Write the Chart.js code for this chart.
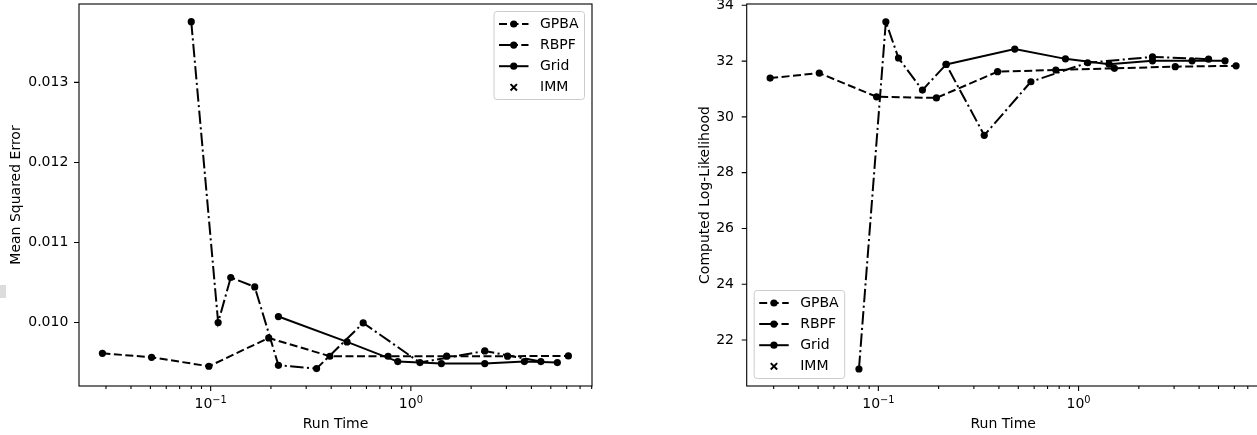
<!DOCTYPE html>
<html><head><meta charset="utf-8">
<script src="https://cdn.jsdelivr.net/npm/chart.js@4.4.1/dist/chart.umd.min.js"></script>
<style>
html,body{margin:0;padding:0;background:#fff;overflow:hidden;width:1257px;height:435px;}
#wrapL{position:absolute;left:0;top:0;width:628px;height:435px;}
#wrapR{position:absolute;left:628px;top:0;width:640px;height:435px;}
#smudge{position:absolute;left:0;top:285px;width:6px;height:13px;background:#dcdcdc;}
</style></head><body>
<div id="wrapL"><canvas id="c1" width="628" height="435"></canvas></div>
<div id="wrapR"><canvas id="c2" width="640" height="435"></canvas></div>
<div id="smudge"></div>
<script>
// ---- data ----
const methodNames = ['GPBA', 'RBPF', 'Grid', 'IMM'];

const gpbaTime = [0.0288, 0.0507, 0.098, 0.195, 0.394, 0.77, 1.51, 3.04, 6.12];
const gpbaMse  = [0.009616, 0.009566, 0.009454, 0.009808, 0.009579, 0.009579, 0.009580, 0.009580, 0.009583];
const gpbaLL   = [31.39, 31.57, 30.72, 30.68, 31.62, 31.68, 31.74, 31.80, 31.83];

const rbpfTime = [0.080, 0.109, 0.126, 0.166, 0.218, 0.338, 0.578, 1.11, 2.34, 4.46];
const rbpfMse  = [0.013758, 0.010000, 0.010563, 0.010445, 0.009466, 0.009425, 0.009995, 0.009500, 0.009645, 0.009512];
const rbpfLL   = [20.96, 33.41, 32.11, 30.96, 31.88, 29.34, 31.26, 31.94, 32.15, 32.07];

const gridTime = [0.218, 0.48, 0.86, 1.42, 2.34, 3.69, 5.39];
const gridMse  = [0.010075, 0.009758, 0.009512, 0.009487, 0.009487, 0.009512, 0.009500];
const gridLL   = [31.88, 32.43, 32.08, 31.89, 32.01, 32.01, 32.01];

const immTime = [];
const immMse  = [];
const immLL   = [];

// x tick labels: [value, base, exponent]
const xTickLabels = [[0.1, '10', '\u22121'], [1, '10', '0']];
const mseTickStep = 0.001;
const llTickStep = 2;

// ---- setup ----
Chart.defaults.font.family = 'DejaVu Sans';
Chart.defaults.font.size = 14;
Chart.defaults.color = '#000';

const xMin = 0.022, xMax = 8.03;

function pts(xs, ys) { return xs.map((v, i) => ({x: v, y: ys[i]})); }

function makeDatasets(gy, ry, dy, iy) {
  const common = {borderColor: '#000', backgroundColor: '#000', borderWidth: 2,
    pointRadius: 3.6, pointHoverRadius: 3.6, pointBorderWidth: 0, pointBackgroundColor: '#000',
    fill: false, tension: 0};
  return [
    Object.assign({}, common, {label: methodNames[0], data: pts(gpbaTime, gy), borderDash: [8, 3.5]}),
    Object.assign({}, common, {label: methodNames[1], data: pts(rbpfTime, ry), borderDash: [13.4, 3.4, 2.1, 3.4]}),
    Object.assign({}, common, {label: methodNames[2], data: pts(gridTime, dy), borderDash: []}),
    Object.assign({}, common, {label: methodNames[3], data: pts(immTime, iy), showLine: false,
      pointStyle: 'crossRot', pointRadius: 4, pointBorderWidth: 2, pointBorderColor: '#000'})
  ];
}

const mplPlugin = {
  id: 'mpl',
  afterDatasetsDraw(chart, args, opts) {
    const {ctx, chartArea: a} = chart;
    const x = chart.scales.x, y = chart.scales.y;
    ctx.save();
    ctx.strokeStyle = '#000';
    ctx.lineWidth = 1.1;
    ctx.setLineDash([]);
    ctx.beginPath();
    x.ticks.forEach(t => {
      const v = t.value;
      if (v < x.min || v > x.max) return;
      const e = Math.floor(Math.log10(v) + 1e-9);
      const m = v / Math.pow(10, e);
      if (Math.abs(m - Math.round(m)) > 1e-6) return;
      const px = x.getPixelForValue(v);
      const len = Math.round(m) === 1 ? 5 : 3;
      ctx.moveTo(px, a.bottom); ctx.lineTo(px, a.bottom + len);
    });
    y.ticks.forEach(t => {
      const py = y.getPixelForValue(t.value);
      ctx.moveTo(a.left - 5, py); ctx.lineTo(a.left, py);
    });
    ctx.stroke();
    ctx.strokeRect(a.left, a.top, a.right - a.left, a.bottom - a.top);

    // x tick labels with superscript exponents, placed by the x scale
    ctx.fillStyle = '#000';
    ctx.textAlign = 'left';
    ctx.textBaseline = 'alphabetic';
    const bigFont = '14px "DejaVu Sans"', supFont = '9.8px "DejaVu Sans"';
    xTickLabels.forEach(([val, base, sup]) => {
      if (val < x.min || val > x.max) return;
      const px = x.getPixelForValue(val);
      ctx.font = bigFont; const wb = ctx.measureText(base).width;
      ctx.font = supFont; const ws = ctx.measureText(sup).width;
      const x0 = px - (wb + ws) / 2;
      const base_y = a.bottom + 22.3;
      ctx.font = bigFont; ctx.fillText(base, x0, base_y);
      ctx.font = supFont; ctx.fillText(sup, x0 + wb, base_y - 5.6);
    });

    // legend
    const ds = chart.data.datasets;
    const W = 90.5, H = 88, pad = 7.5;
    let fx, fy;
    if (opts.loc === 'upper right') { fx = a.right - pad - W; fy = a.top + pad; }
    else { fx = a.left + pad; fy = a.bottom - pad - H; }
    ctx.beginPath();
    ctx.roundRect(fx, fy, W, H, 3);
    ctx.fillStyle = 'rgba(255,255,255,0.8)';
    ctx.fill();
    ctx.strokeStyle = '#cccccc';
    ctx.lineWidth = 1;
    ctx.stroke();
    ds.forEach((d, i) => {
      const cy = fy + 12.5 + i * 21.1;
      const x0 = fx + 5, x1 = fx + 34.5, cx = (x0 + x1) / 2;
      ctx.strokeStyle = '#000';
      if (d.showLine !== false) {
        ctx.setLineDash(d.borderDash || []);
        ctx.lineWidth = d.borderWidth;
        ctx.beginPath(); ctx.moveTo(x0, cy); ctx.lineTo(x1, cy); ctx.stroke();
        ctx.setLineDash([]);
      }
      if (d.pointStyle === 'crossRot') {
        const s = 3.2;
        ctx.lineWidth = 2;
        ctx.beginPath();
        ctx.moveTo(cx - s, cy - s); ctx.lineTo(cx + s, cy + s);
        ctx.moveTo(cx - s, cy + s); ctx.lineTo(cx + s, cy - s);
        ctx.stroke();
      } else {
        ctx.fillStyle = '#000';
        ctx.beginPath(); ctx.arc(cx, cy, d.pointRadius, 0, Math.PI * 2); ctx.fill();
      }
      ctx.fillStyle = '#000';
      ctx.font = '14px "DejaVu Sans"';
      ctx.textBaseline = 'middle';
      ctx.textAlign = 'left';
      ctx.fillText(d.label, fx + 46, cy);
    });
    ctx.restore();
  }
};

function makeChart(id, cfg) {
  return new Chart(document.getElementById(id), {
    type: 'line',
    data: {datasets: cfg.datasets},
    options: {
      responsive: false, animation: false, devicePixelRatio: 1,
      events: [],
      layout: {padding: {left: 0, right: cfg.padRight, top: 4, bottom: 0}},
      plugins: {legend: {display: false}, tooltip: {enabled: false}, mpl: {loc: cfg.legendLoc}},
      scales: {
        x: {
          type: 'logarithmic', min: xMin, max: xMax,
          grid: {display: false, drawTicks: false}, border: {display: false},
          ticks: {autoSkip: false, maxRotation: 0, minRotation: 0, padding: 8, color: '#000',
                  font: {family: 'DejaVu Sans', size: 14}, callback: () => ''},
          title: {display: true, text: 'Run Time', color: '#000', font: {family: 'DejaVu Sans', size: 14},
                  padding: {top: 0, bottom: 2.6}},
          afterFit: s => { s.height = 49; s.paddingLeft = 0; s.paddingRight = 0; }
        },
        y: {
          type: 'linear', min: cfg.yMin, max: cfg.yMax,
          grid: {display: false, drawTicks: false}, border: {display: false},
          ticks: {stepSize: cfg.step, includeBounds: false, padding: cfg.tickPad, color: '#000',
                  font: {family: 'DejaVu Sans', size: 14}, callback: cfg.yFmt},
          title: {display: true, text: cfg.yTitle, color: '#000', font: {family: 'DejaVu Sans', size: 14},
                  padding: {top: cfg.titlePad, bottom: 0}},
          afterFit: s => { s.width = cfg.yWidth; s.paddingTop = 0; s.paddingBottom = 0; }
        }
      }
    },
    plugins: [mplPlugin]
  });
}

makeChart('c1', {
  datasets: makeDatasets(gpbaMse, rbpfMse, gridMse, immMse),
  padRight: 36, yMin: 0.0092075, yMax: 0.013979, step: mseTickStep, tickPad: 10.7,
  yFmt: v => v.toFixed(3), yTitle: 'Mean Squared Error', titlePad: 7.6, yWidth: 79,
  legendLoc: 'upper right'
});

makeChart('c2', {
  datasets: makeDatasets(gpbaLL, rbpfLL, gridLL, immLL),
  padRight: 8.3, yMin: 20.35, yMax: 34.047, step: llTickStep, tickPad: 12.7,
  yFmt: v => String(Math.round(v)), yTitle: 'Computed Log-Likelihood', titlePad: 69.1, yWidth: 118.7,
  legendLoc: 'lower left'
});
</script>
</body></html>
